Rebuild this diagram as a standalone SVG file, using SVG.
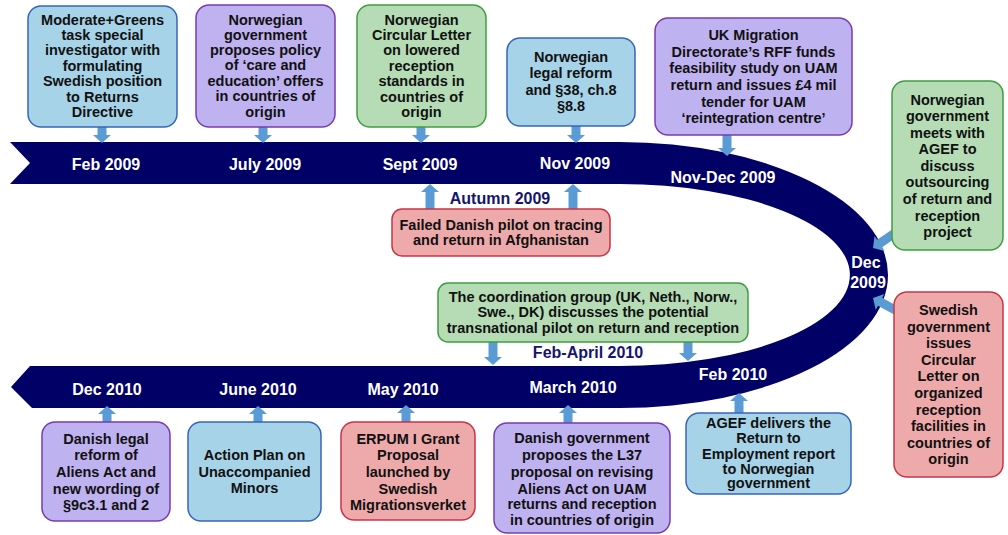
<svg xmlns="http://www.w3.org/2000/svg" width="1008" height="535" viewBox="0 0 1008 535">
<style>
text{font-family:"Liberation Sans",Arial,sans-serif;font-weight:bold;}
.t{font-size:14.5px;fill:#111;text-anchor:middle;}
.bl{font-size:16px;fill:#fff;text-anchor:middle;}
.nv{font-size:16px;fill:#15156e;text-anchor:middle;}
.blue{fill:#a7d3e8;stroke:#3766b8;stroke-width:1.5;}
.purp{fill:#bfb2f0;stroke:#7a3bb0;stroke-width:1.5;}
.grn{fill:#b5dcb5;stroke:#3f9e3f;stroke-width:1.5;}
.red{fill:#eeaaaa;stroke:#c93545;stroke-width:1.5;}
.arr{fill:#5b9bd5;}
</style>
<rect width="1008" height="535" fill="#fff"/>
<g id="band">
<path d="M10,142 L620,142 A268,133 0 0 1 620,408 L32,408 L11,387 L30,366 L620,366 A230,91 0 0 0 620,184 L10,184 L30,163 Z" fill="#000066"/>
<text class="bl" x="106" y="169.5">Feb 2009</text>
<text class="bl" x="265" y="169.5">July 2009</text>
<text class="bl" x="420" y="170">Sept 2009</text>
<text class="bl" x="575" y="169">Nov 2009</text>
<text class="bl" x="723" y="182.5">Nov-Dec 2009</text>
<text class="bl" x="866" y="267.5">Dec</text>
<text class="bl" x="868" y="287.5">2009</text>
<text class="bl" x="733" y="380">Feb 2010</text>
<text class="bl" x="573" y="393">March 2010</text>
<text class="bl" x="403" y="394.5">May 2010</text>
<text class="bl" x="258" y="394.5">June 2010</text>
<text class="bl" x="107" y="394.5">Dec 2010</text>
<text class="nv" x="500" y="204">Autumn 2009</text>
<text class="nv" x="588" y="357.5">Feb-April 2010</text>
</g>
<g id="connectors">
<path class="arr" d="M97.5,127 H106.5 V135 H111 L102,143 L93,135 H97.5 Z"/>
<path class="arr" d="M258.5,127 H267.5 V135 H272 L263,143 L254,135 H258.5 Z"/>
<path class="arr" d="M416.5,127 H425.5 V135 H430 L421,143 L412,135 H416.5 Z"/>
<path class="arr" d="M571.5,126 H580.5 V135 H585 L576,143 L567,135 H571.5 Z"/>
<path class="arr" d="M722.5,135 H731.5 V148 H736 L727,156 L718,148 H722.5 Z"/>
<path class="arr" d="M425.5,209 H434.5 V192 H439 L430,184 L421,192 H425.5 Z"/>
<path class="arr" d="M568.5,209 H577.5 V192 H582 L573,184 L564,192 H568.5 Z"/>
<path class="arr" transform="translate(873,248) rotate(55.7)" d="M-4.5,-27 H4.5 V-8 H9 L0,0 L-9,-8 H-4.5 Z"/>
<path class="arr" transform="translate(873,298) rotate(118.5)" d="M-4.5,-27 H4.5 V-8 H9 L0,0 L-9,-8 H-4.5 Z"/>
<path class="arr" d="M488.5,342 H497.5 V357 H502 L493,365 L484,357 H488.5 Z"/>
<path class="arr" d="M683.5,342 H692.5 V353 H697 L688,361 L679,353 H683.5 Z"/>
<path class="arr" d="M734.5,413 H743.5 V401 H748 L739,393 L730,401 H734.5 Z"/>
<path class="arr" d="M563.5,423 H572.5 V413 H577 L568,405 L559,413 H563.5 Z"/>
<path class="arr" d="M401.5,422 H410.5 V413 H415 L406,405 L397,413 H401.5 Z"/>
<path class="arr" d="M253.5,422 H262.5 V414 H267 L258,406 L249,414 H253.5 Z"/>
<path class="arr" d="M102.5,422 H111.5 V414 H116 L107,406 L98,414 H102.5 Z"/>
</g>
<g id="n-feb2009">
<rect class="blue" x="28" y="6" width="149" height="121" rx="13"/>
<text class="t"><tspan x="102.5" y="25">Moderate+Greens</tspan><tspan x="102.5" y="40">task special</tspan><tspan x="102.5" y="55">investigator with</tspan><tspan x="102.5" y="71">formulating</tspan><tspan x="102.5" y="86">Swedish position</tspan><tspan x="102.5" y="102">to Returns</tspan><tspan x="102.5" y="117">Directive</tspan></text>
</g>
<g id="n-jul2009">
<rect class="purp" x="196" y="5" width="139" height="122" rx="13"/>
<text class="t"><tspan x="265.5" y="25">Norwegian</tspan><tspan x="265.5" y="40">government</tspan><tspan x="265.5" y="55">proposes policy</tspan><tspan x="265.5" y="70">of ‘care and</tspan><tspan x="265.5" y="86">education’ offers</tspan><tspan x="265.5" y="101">in countries of</tspan><tspan x="265.5" y="117">origin</tspan></text>
</g>
<g id="n-sep2009">
<rect class="grn" x="357" y="5" width="129" height="122" rx="13"/>
<text class="t"><tspan x="421.5" y="25">Norwegian</tspan><tspan x="421.5" y="40">Circular Letter</tspan><tspan x="421.5" y="55">on lowered</tspan><tspan x="421.5" y="71">reception</tspan><tspan x="421.5" y="86">standards in</tspan><tspan x="421.5" y="102">countries of</tspan><tspan x="421.5" y="117">origin</tspan></text>
</g>
<g id="n-nov2009">
<rect class="blue" x="507" y="38" width="128" height="88" rx="13"/>
<text class="t"><tspan x="571" y="62">Norwegian</tspan><tspan x="571" y="78">legal reform</tspan><tspan x="571" y="95">and §38, ch.8</tspan><tspan x="571" y="111">§8.8</tspan></text>
</g>
<g id="n-novdec2009">
<rect class="purp" x="655" y="18" width="197" height="117" rx="13"/>
<text class="t"><tspan x="753.5" y="40">UK Migration</tspan><tspan x="753.5" y="57">Directorate’s RFF funds</tspan><tspan x="753.5" y="73">feasibility study on UAM</tspan><tspan x="753.5" y="90">return and issues £4 mil</tspan><tspan x="753.5" y="107">tender for UAM</tspan><tspan x="753.5" y="123">‘reintegration centre’</tspan></text>
</g>
<g id="n-dec2009a">
<rect class="grn" x="892" y="81" width="111" height="169" rx="13"/>
<text class="t"><tspan x="947.5" y="104.5">Norwegian</tspan><tspan x="947.5" y="121">government</tspan><tspan x="947.5" y="138">meets with</tspan><tspan x="947.5" y="154">AGEF to</tspan><tspan x="947.5" y="171">discuss</tspan><tspan x="947.5" y="187">outsourcing</tspan><tspan x="947.5" y="204">of return and</tspan><tspan x="947.5" y="221">reception</tspan><tspan x="947.5" y="237">project</tspan></text>
</g>
<g id="n-dec2009b">
<rect class="red" x="894" y="292" width="109" height="185" rx="13"/>
<text class="t"><tspan x="948.5" y="315">Swedish</tspan><tspan x="948.5" y="331.5">government</tspan><tspan x="948.5" y="348">issues</tspan><tspan x="948.5" y="364.5">Circular</tspan><tspan x="948.5" y="381">Letter on</tspan><tspan x="948.5" y="398">organized</tspan><tspan x="948.5" y="414.5">reception</tspan><tspan x="948.5" y="431">facilities in</tspan><tspan x="948.5" y="447.5">countries of</tspan><tspan x="948.5" y="464">origin</tspan></text>
</g>
<g id="n-autumn2009">
<rect class="red" x="392" y="209" width="218" height="47" rx="10"/>
<text class="t"><tspan x="501" y="229.5">Failed Danish pilot on tracing</tspan><tspan x="501" y="245">and return in Afghanistan</tspan></text>
</g>
<g id="n-febapr2010">
<rect class="grn" x="438" y="283" width="310" height="59" rx="10"/>
<text class="t"><tspan x="593" y="302">The coordination group (UK, Neth., Norw.,</tspan><tspan x="593" y="317">Swe., DK) discusses the potential</tspan><tspan x="593" y="332.5">transnational pilot on return and reception</tspan></text>
</g>
<g id="n-feb2010">
<rect class="blue" x="686" y="413" width="165" height="81" rx="13"/>
<text class="t"><tspan x="768.5" y="428">AGEF delivers the</tspan><tspan x="768.5" y="443">Return to</tspan><tspan x="768.5" y="458.5">Employment report</tspan><tspan x="768.5" y="473.5">to Norwegian</tspan><tspan x="768.5" y="488">government</tspan></text>
</g>
<g id="n-mar2010">
<rect class="purp" x="494" y="423" width="176" height="110" rx="13"/>
<text class="t"><tspan x="582" y="443">Danish government</tspan><tspan x="582" y="460">proposes the L37</tspan><tspan x="582" y="477">proposal on revising</tspan><tspan x="582" y="493.5">Aliens Act on UAM</tspan><tspan x="582" y="509">returns and reception</tspan><tspan x="582" y="525">in countries of origin</tspan></text>
</g>
<g id="n-may2010">
<rect class="red" x="341" y="422" width="134" height="98" rx="13"/>
<text class="t"><tspan x="408" y="443.5">ERPUM I Grant</tspan><tspan x="408" y="460">Proposal</tspan><tspan x="408" y="477">launched by</tspan><tspan x="408" y="493.5">Swedish</tspan><tspan x="408" y="510">Migrationsverket</tspan></text>
</g>
<g id="n-jun2010">
<rect class="blue" x="188" y="422" width="133" height="99" rx="13"/>
<text class="t"><tspan x="254.5" y="460">Action Plan on</tspan><tspan x="254.5" y="477">Unaccompanied</tspan><tspan x="254.5" y="493">Minors</tspan></text>
</g>
<g id="n-dec2010">
<rect class="purp" x="42" y="422" width="128" height="99" rx="13"/>
<text class="t"><tspan x="106" y="443.5">Danish legal</tspan><tspan x="106" y="460">reform of</tspan><tspan x="106" y="477">Aliens Act and</tspan><tspan x="106" y="493.5">new wording of</tspan><tspan x="106" y="510">§9c3.1 and 2</tspan></text>
</g>
</svg>
